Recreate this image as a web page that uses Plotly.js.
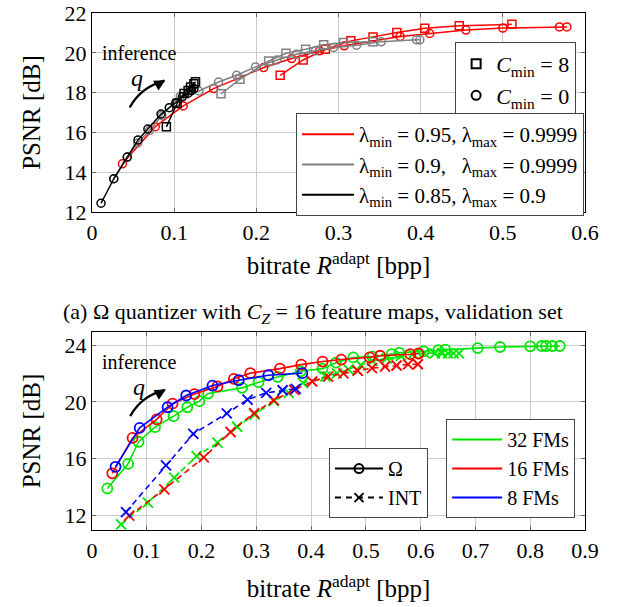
<!DOCTYPE html>
<html>
<head>
<meta charset="utf-8">
<script src="https://cdn.plot.ly/plotly-3.0.1.min.js"></script>
<style>html,body{margin:0;padding:0;background:#fff;}#plot{width:620px;height:607px;}</style>
</head>
<body>
<div id="plot"></div>
<script>
// ---------- Top panel data (Omega quantizer, C_Z = 16) ----------
const redCircX  = [0.037, 0.077, 0.111, 0.148, 0.209, 0.243, 0.277, 0.307, 0.375, 0.411, 0.455, 0.500, 0.569, 0.578];
const redCircY  = [14.42, 16.29, 17.33, 18.20, 19.26, 19.71, 20.10, 20.35, 20.82, 20.97, 21.14, 21.24, 21.30, 21.30];
const redSqX    = [0.229, 0.257, 0.284, 0.315, 0.342, 0.371, 0.405, 0.447, 0.511];
const redSqY    = [18.87, 19.64, 20.18, 20.60, 20.80, 21.02, 21.23, 21.36, 21.43];
const grayCircX = [0.0265, 0.0427, 0.0557, 0.070, 0.085, 0.1075, 0.130, 0.154, 0.176, 0.199, 0.225, 0.249, 0.272, 0.294, 0.322, 0.352, 0.395, 0.399];
const grayCircY = [13.67, 14.76, 15.47, 16.10, 16.85, 17.82, 18.08, 18.53, 18.87, 19.29, 19.64, 19.93, 20.10, 20.27, 20.38, 20.55, 20.65, 20.65];
const graySqX   = [0.157, 0.180, 0.215, 0.236, 0.260, 0.282, 0.306, 0.342];
const graySqY   = [17.94, 18.67, 19.59, 19.98, 20.18, 20.40, 20.52, 20.55];
const blackCircX = [0.011, 0.0265, 0.043, 0.056, 0.068, 0.084, 0.094, 0.102, 0.110, 0.117, 0.121, 0.124];
const blackCircY = [12.44, 13.67, 14.76, 15.62, 16.17, 16.92, 17.24, 17.49, 17.79, 17.97, 18.10, 18.20];
const blackSqX  = [0.0905, 0.1035, 0.112, 0.117, 0.120, 0.124, 0.126];
const blackSqY  = [16.28, 17.45, 17.96, 18.10, 18.28, 18.45, 18.55];

// ---------- Bottom panel data ----------
const greenOmX = [0.028, 0.066, 0.085, 0.115, 0.149, 0.174, 0.196, 0.212, 0.274, 0.304, 0.339, 0.381, 0.421, 0.445, 0.477, 0.512, 0.547, 0.561, 0.605, 0.632, 0.645, 0.704, 0.745, 0.800, 0.821, 0.829, 0.840, 0.854];
const greenOmY = [13.88, 15.62, 17.18, 18.21, 18.99, 19.62, 20.05, 20.59, 20.99, 21.39, 21.76, 22.16, 22.35, 22.77, 23.14, 23.20, 23.37, 23.47, 23.58, 23.65, 23.70, 23.80, 23.88, 23.93, 23.95, 23.95, 23.95, 23.95];
const redOmX   = [0.037, 0.074, 0.118, 0.147, 0.187, 0.229, 0.259, 0.289, 0.343, 0.382, 0.421, 0.455, 0.507, 0.526, 0.581, 0.596];
const redOmY   = [14.95, 17.45, 18.76, 19.87, 20.55, 21.09, 21.63, 22.03, 22.35, 22.63, 22.85, 22.99, 23.15, 23.26, 23.37, 23.42];
const blueOmX  = [0.043, 0.087, 0.138, 0.172, 0.220, 0.268, 0.322, 0.384];
const blueOmY  = [15.41, 18.16, 19.62, 20.45, 21.15, 21.53, 21.88, 22.03];
const greenIntX = [0.053, 0.102, 0.150, 0.191, 0.229, 0.265, 0.297, 0.332, 0.359, 0.385, 0.426, 0.447, 0.468, 0.491, 0.512, 0.538, 0.564, 0.586, 0.607, 0.626, 0.639, 0.650, 0.660, 0.670];
const greenIntY = [11.34, 12.87, 14.64, 16.16, 17.11, 18.24, 19.10, 20.05, 20.64, 21.34, 21.80, 22.02, 22.30, 22.60, 22.90, 23.07, 23.26, 23.37, 23.45, 23.43, 23.43, 23.43, 23.43, 23.43];
const redIntX  = [0.068, 0.132, 0.204, 0.253, 0.296, 0.332, 0.369, 0.402, 0.431, 0.459, 0.485, 0.511, 0.535, 0.556, 0.577, 0.595];
const redIntY  = [11.95, 13.82, 16.07, 17.87, 19.21, 20.12, 20.84, 21.44, 21.79, 22.02, 22.20, 22.38, 22.50, 22.57, 22.65, 22.66];
const blueIntX = [0.062, 0.135, 0.185, 0.246, 0.284, 0.318, 0.348, 0.372];
const blueIntY = [12.21, 15.51, 17.74, 19.18, 20.16, 20.64, 20.82, 20.92];

// ---------- Labels ----------
const lambdaLabels = ['λ<sub>min</sub> = 0.95, λ<sub>max</sub> = 0.9999',
                      'λ<sub>min</sub> = 0.9,\u00a0\u00a0 λ<sub>max</sub> = 0.9999',
                      'λ<sub>min</sub> = 0.85, λ<sub>max</sub> = 0.9'];
const cminLabels = ['<i>C</i><sub>min</sub> = 8', '<i>C</i><sub>min</sub> = 0'];
const quantLabels = ['Ω', 'INT'];
const fmLabels = ['32 FMs', '16 FMs', '8 FMs'];
const xTitle = 'bitrate <i>R</i><sup>adapt</sup> [bpp]';
const yTitle = 'PSNR [dB]';
const caption = '(a) Ω quantizer with <i>C</i><sub><i>Z</i></sub> = 16 feature maps, validation set';

const FONT = 'Liberation Serif';
const RED = '#ff0000', GRAY = '#808080', BLACK = '#000000', GREEN = '#00e600', BLUE = '#0000ff';

function topTrace(x, y, color, symbol) {
  return {x, y, xaxis:'x', yaxis:'y', type:'scatter', mode:'lines+markers', showlegend:false,
    line:{color, width:1.5},
    marker:{symbol, size:8, color, line:{color, width:1.5}}};
}
function botTrace(x, y, color, symbol, dash) {
  return {x, y, xaxis:'x2', yaxis:'y2', type:'scatter', mode:'lines+markers', showlegend:false,
    line:{color, width:1.6, dash},
    marker:{symbol, size:10, color, line:{color, width:1.8}}};
}
function dummy(name, legend, opts) {
  return Object.assign({x:[null], y:[null], xaxis:'x', yaxis:'y', type:'scatter', name, legend, showlegend:true}, opts);
}

const data = [
  topTrace(redCircX, redCircY, RED, 'circle-open'),
  topTrace(redSqX, redSqY, RED, 'square-open'),
  topTrace(grayCircX, grayCircY, GRAY, 'circle-open'),
  topTrace(graySqX, graySqY, GRAY, 'square-open'),
  topTrace(blackCircX, blackCircY, BLACK, 'circle-open'),
  topTrace(blackSqX, blackSqY, BLACK, 'square-open'),

  botTrace(greenIntX, greenIntY, GREEN, 'x-thin-open', '6px,4px'),
  botTrace(redIntX, redIntY, RED, 'x-thin-open', '6px,4px'),
  botTrace(blueIntX, blueIntY, BLUE, 'x-thin-open', '6px,4px'),
  botTrace(greenOmX, greenOmY, GREEN, 'circle-open', 'solid'),
  botTrace(redOmX, redOmY, RED, 'circle-open', 'solid'),
  botTrace(blueOmX, blueOmY, BLUE, 'circle-open', 'solid'),

  dummy(cminLabels[0], 'legend', {mode:'markers', marker:{symbol:'square-open', size:9, color:BLACK, line:{color:BLACK, width:2}}}),
  dummy(cminLabels[1], 'legend', {mode:'markers', marker:{symbol:'circle-open', size:9, color:BLACK, line:{color:BLACK, width:2}}}),
  dummy(lambdaLabels[0], 'legend2', {mode:'lines', line:{color:RED, width:2}}),
  dummy(lambdaLabels[1], 'legend2', {mode:'lines', line:{color:GRAY, width:2}}),
  dummy(lambdaLabels[2], 'legend2', {mode:'lines', line:{color:BLACK, width:2}}),
  dummy(quantLabels[0], 'legend3', {xaxis:'x2', yaxis:'y2', mode:'lines+markers', line:{color:BLACK, width:2}, marker:{symbol:'circle-open', size:9, color:BLACK, line:{color:BLACK, width:2}}}),
  dummy(quantLabels[1], 'legend3', {xaxis:'x2', yaxis:'y2', mode:'lines+markers', line:{color:BLACK, width:2, dash:'6px,5px'}, marker:{symbol:'x-thin-open', size:9, color:BLACK, line:{color:BLACK, width:2}}}),
  dummy(fmLabels[0], 'legend4', {xaxis:'x2', yaxis:'y2', mode:'lines', line:{color:GREEN, width:2}}),
  dummy(fmLabels[1], 'legend4', {xaxis:'x2', yaxis:'y2', mode:'lines', line:{color:RED, width:2}}),
  dummy(fmLabels[2], 'legend4', {xaxis:'x2', yaxis:'y2', mode:'lines', line:{color:BLUE, width:2}})
];

const axisBase = {
  showgrid:true, gridcolor:'#cbcbcb', gridwidth:1, zeroline:false,
  showline:true, mirror:'ticks', linecolor:'#000', linewidth:1.2,
  ticks:'inside', ticklen:4, tickcolor:'#666', tickwidth:1,
  tickfont:{family:FONT, size:22, color:'#000'}
};
const titleFont = {family:FONT, size:25, color:'#000'};

const legendBase = {
  bgcolor:'#fff', bordercolor:'#444', borderwidth:1,
  traceorder:'normal', tracegroupgap:0
};

const layout = {
  width:620, height:607,
  margin:{l:92, r:35, t:13, b:77},
  paper_bgcolor:'#fff', plot_bgcolor:'#fff',
  font:{family:FONT, color:'#000', size:22},
  xaxis: Object.assign({}, axisBase, {domain:[0,1], range:[0,0.6], dtick:0.1, tick0:0, anchor:'y',
    title:{text:xTitle, font:titleFont, standoff:13}}),
  yaxis: Object.assign({}, axisBase, {domain:[0.6151,1], range:[12,22], dtick:2, tick0:12, anchor:'x',
    title:{text:yTitle, font:titleFont, standoff:16}}),
  xaxis2: Object.assign({}, axisBase, {domain:[0,1], range:[0,0.9], dtick:0.1, tick0:0, anchor:'y2',
    title:{text:xTitle, font:titleFont, standoff:18}}),
  yaxis2: Object.assign({}, axisBase, {domain:[0,0.383], range:[10.94,24.94], dtick:4, tick0:12, anchor:'x2',
    title:{text:yTitle, font:titleFont, standoff:16}}),
  legend: Object.assign({}, legendBase, {font:{family:FONT, size:22, color:'#000'}, x:0.982, y:0.944, xanchor:'right', yanchor:'top', itemwidth:30}),
  legend2: Object.assign({}, legendBase, {font:{family:FONT, size:21, color:'#000'}, x:0.998, y:0.8066, xanchor:'right', yanchor:'top', itemwidth:52}),
  legend3: Object.assign({}, legendBase, {font:{family:FONT, size:20, color:'#000'}, x:0.6815, y:0.023, xanchor:'right', yanchor:'bottom', itemwidth:48}),
  legend4: Object.assign({}, legendBase, {font:{family:FONT, size:20, color:'#000'}, x:0.98, y:0.023, xanchor:'right', yanchor:'bottom', itemwidth:50}),
  shapes: [
    {type:'path', xref:'x', yref:'y', path:'M 0.0459,17.25 Q 0.0589,18.25 0.0880,18.60', line:{color:'#000', width:2.2}},
    {type:'path', xref:'x2', yref:'y2', path:'M 0.0698,18.99 Q 0.0893,20.40 0.1330,20.85', line:{color:'#000', width:2.2}}
  ],
  annotations: [
    {xref:'x', yref:'y', x:0.0574, y:20.0, text:'inference', showarrow:false, font:{family:FONT, size:20, color:'#000'}},
    {xref:'x', yref:'y', x:0.055, y:18.72, text:'<i>q</i>', showarrow:false, font:{family:FONT, size:24, color:'#000'}},
    {xref:'x', yref:'y', x:0.0893, y:18.62, ax:-9, ay:5, text:'', showarrow:true, arrowhead:2, arrowsize:1.1, arrowwidth:2, arrowcolor:'#000'},
    {xref:'x2', yref:'y2', x:0.0865, y:22.8, text:'inference', showarrow:false, font:{family:FONT, size:20, color:'#000'}},
    {xref:'x2', yref:'y2', x:0.086, y:21.05, text:'<i>q</i>', showarrow:false, font:{family:FONT, size:24, color:'#000'}},
    {xref:'x2', yref:'y2', x:0.1348, y:20.87, ax:-9, ay:5, text:'', showarrow:true, arrowhead:2, arrowsize:1.1, arrowwidth:2, arrowcolor:'#000'},
    {xref:'paper', yref:'paper', x:0.448, y:0.4197, xanchor:'center', yanchor:'middle',
      text:caption, showarrow:false, font:{family:FONT, size:22, color:'#000'}}
  ]
};

Plotly.newPlot('plot', data, layout, {displayModeBar:false, staticPlot:true});
</script>
</body>
</html>
